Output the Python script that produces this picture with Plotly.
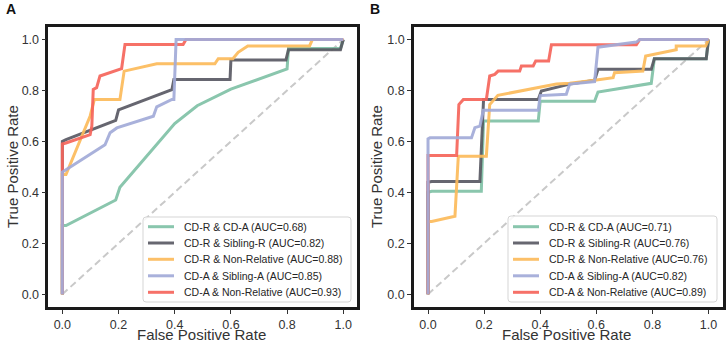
import plotly.graph_objects as go

W, H = 728, 342

# ---------------- data ----------------
series_names = ["CD-R & CD-A", "CD-R & Sibling-R", "CD-R & Non-Relative",
                "CD-A & Sibling-A", "CD-A & Non-Relative"]
auc_A = [0.68, 0.82, 0.88, 0.85, 0.93]
auc_B = [0.71, 0.76, 0.76, 0.82, 0.89]
tick_vals = [0.0, 0.2, 0.4, 0.6, 0.8, 1.0]

# Panel A
A_green_x = [0, 0, 0.013, 0.19, 0.205, 0.40, 0.48, 0.60, 0.80, 0.805, 0.99, 1.0]
A_green_y = [0, 0.27, 0.27, 0.37, 0.42, 0.67, 0.74, 0.805, 0.885, 0.965, 0.965, 1.0]
A_gray_x = [0, 0, 0.013, 0.19, 0.20, 0.39, 0.397, 0.597, 0.60, 0.796, 0.805, 0.99, 1.0]
A_gray_y = [0, 0.60, 0.607, 0.683, 0.724, 0.803, 0.843, 0.843, 0.92, 0.92, 0.96, 0.96, 1.0]
A_orange_x = [0, 0, 0.013, 0.099, 0.114, 0.205, 0.22, 0.336, 0.543, 0.555, 0.607, 0.626,
              0.66, 0.88, 0.89, 1.0]
A_orange_y = [0, 0.47, 0.47, 0.70, 0.765, 0.765, 0.876, 0.905, 0.905, 0.925, 0.925, 0.95,
              0.975, 0.975, 1.0, 1.0]
A_lav_x = [0, 0, 0.013, 0.152, 0.17, 0.194, 0.324, 0.336, 0.39, 0.397, 0.405, 1.0]
A_lav_y = [0, 0.48, 0.489, 0.587, 0.634, 0.653, 0.699, 0.736, 0.765, 0.765, 1.0, 1.0]
A_red_x = [0, 0, 0.013, 0.099, 0.105, 0.11, 0.122, 0.134, 0.211, 0.223, 0.43, 0.44, 1.0]
A_red_y = [0, 0.59, 0.594, 0.627, 0.66, 0.804, 0.811, 0.857, 0.886, 0.981, 0.981, 1.0, 1.0]

# Panel B
B_green_x = [0, 0, 0.013, 0.19, 0.198, 0.393, 0.40, 0.594, 0.606, 0.796, 0.807, 0.992, 1.0]
B_green_y = [0, 0.40, 0.404, 0.404, 0.68, 0.68, 0.758, 0.758, 0.794, 0.828, 0.925, 0.925, 1.0]
B_gray_x = [0, 0, 0.013, 0.185, 0.198, 0.393, 0.404, 0.505, 0.594, 0.606, 0.796, 0.807, 0.992, 1.0]
B_gray_y = [0, 0.44, 0.443, 0.443, 0.765, 0.765, 0.798, 0.825, 0.84, 0.883, 0.883, 0.925, 0.925, 1.0]
B_orange_x = [0, 0, 0.013, 0.096, 0.108, 0.208, 0.22, 0.249, 0.458, 0.505, 0.594, 0.66,
              0.665, 0.766, 0.776, 0.85, 0.885, 0.885, 0.99, 1.0]
B_orange_y = [0, 0.286, 0.286, 0.306, 0.542, 0.542, 0.745, 0.781, 0.825, 0.828, 0.84, 0.85,
              0.87, 0.876, 0.935, 0.95, 0.96, 0.975, 0.975, 1.0]
B_lav_x = [0, 0, 0.007, 0.155, 0.167, 0.185, 0.197, 0.393, 0.40, 0.493, 0.505, 0.594,
           0.606, 0.743, 0.755, 1.0]
B_lav_y = [0, 0.61, 0.614, 0.614, 0.654, 0.66, 0.722, 0.722, 0.78, 0.785, 0.825, 0.835,
           0.97, 0.99, 1.0, 1.0]
B_red_x = [0, 0, 0.013, 0.102, 0.11, 0.126, 0.208, 0.22, 0.238, 0.25, 0.327, 0.333, 0.375,
           0.384, 0.43, 0.44, 0.743, 0.755, 1.0]
B_red_y = [0, 0.545, 0.545, 0.545, 0.745, 0.765, 0.765, 0.857, 0.863, 0.876, 0.876, 0.896,
           0.896, 0.916, 0.916, 0.98, 0.98, 1.0, 1.0]

colors = ["#80c2a7", "#5b5b64", "#fcbb5d", "#a2abd8", "#f6655c"]

panels = [
    dict(xs=[A_green_x, A_gray_x, A_orange_x, A_lav_x, A_red_x],
         ys=[A_green_y, A_gray_y, A_orange_y, A_lav_y, A_red_y],
         auc=auc_A, letter="A", xa="x", ya="y"),
    dict(xs=[B_green_x, B_gray_x, B_orange_x, B_lav_x, B_red_x],
         ys=[B_green_y, B_gray_y, B_orange_y, B_lav_y, B_red_y],
         auc=auc_B, letter="B", xa="x2", ya="y2"),
]

# ---------------- layout geometry (pixels) ----------------
def pxx(x):
    return x / W

def pxy(y):
    return 1 - y / H

panel_left = [48.3, 414.0]
panel_right = [357.3, 722.5]
plot_top, plot_bottom = 26.8, 307.0

fig = go.Figure()

draw_order = [0, 1, 2, 4, 3]
for p in panels:
    fig.add_trace(go.Scatter(x=[0, 1], y=[0, 1], mode="lines",
                             line=dict(color="#c9c9c9", width=2, dash="7px,4px"),
                             xaxis=p["xa"], yaxis=p["ya"], showlegend=False,
                             hoverinfo="skip"))
    for i in draw_order:
        fig.add_trace(go.Scatter(
            x=p["xs"][i], y=p["ys"][i], mode="lines",
            line=dict(color=colors[i], width=3),
            opacity=0.92,
            name=f"{series_names[i]} (AUC={p['auc'][i]:.2f})",
            xaxis=p["xa"], yaxis=p["ya"], showlegend=False))

axis_common = dict(
    range=[-0.05, 1.05], tickvals=tick_vals, tickformat=".1f",
    showgrid=False, zeroline=False, showline=True, mirror=True,
    linecolor="#1a1a1a", linewidth=2.5,
    ticks="outside", ticklen=4, tickwidth=1, tickcolor="#333333",
    tickfont=dict(size=12.5, color="#333333"), automargin=False,
)

fig.update_layout(
    width=W, height=H,
    margin=dict(l=0, r=0, t=0, b=0),
    paper_bgcolor="white", plot_bgcolor="white",
    font=dict(family="Liberation Sans, Arial, sans-serif", color="#262626"),
    showlegend=False,
    xaxis=dict(domain=[pxx(panel_left[0]), pxx(panel_right[0])], anchor="y", **axis_common),
    yaxis=dict(domain=[pxy(plot_bottom), pxy(plot_top)], anchor="x", **axis_common),
    xaxis2=dict(domain=[pxx(panel_left[1]), pxx(panel_right[1])], anchor="y2", **axis_common),
    yaxis2=dict(domain=[pxy(plot_bottom), pxy(plot_top)], anchor="x2", **axis_common),
)

annotations = []
shapes = []
row_y = [226.7, 243.0, 259.3, 275.8, 292.3]
legend_box = [(143, 217, 351, 302), (508, 216, 717, 302)]
title_x_center = [201.0, 566.0]
ytitle_x = [12.0, 376.0]
letter_x = [11.0, 375.0]

for k, p in enumerate(panels):
    # panel letters
    annotations.append(dict(text=f"<b>{p['letter']}</b>", x=pxx(letter_x[k]), y=pxy(8.5),
                            xref="paper", yref="paper", showarrow=False,
                            xanchor="center", yanchor="middle",
                            font=dict(size=14, color="#111111")))
    # axis titles
    annotations.append(dict(text="False Positive Rate", x=pxx(title_x_center[k]), y=pxy(334),
                            xref="paper", yref="paper", showarrow=False,
                            xanchor="center", yanchor="middle", borderpad=0,
                            font=dict(size=15, color="#333333")))
    annotations.append(dict(text="True Positive Rate", x=pxx(ytitle_x[k]), y=pxy(167),
                            xref="paper", yref="paper", showarrow=False, textangle=-90,
                            xanchor="center", yanchor="middle", borderpad=0,
                            font=dict(size=15, color="#333333")))
    # legend box (rounded)
    x0, y0, x1, y1 = legend_box[k]
    r = 3
    path = (f"M {pxx(x0 + r)},{pxy(y0)} L {pxx(x1 - r)},{pxy(y0)} "
            f"Q {pxx(x1)},{pxy(y0)} {pxx(x1)},{pxy(y0 + r)} "
            f"L {pxx(x1)},{pxy(y1 - r)} Q {pxx(x1)},{pxy(y1)} {pxx(x1 - r)},{pxy(y1)} "
            f"L {pxx(x0 + r)},{pxy(y1)} Q {pxx(x0)},{pxy(y1)} {pxx(x0)},{pxy(y1 - r)} "
            f"L {pxx(x0)},{pxy(y0 + r)} Q {pxx(x0)},{pxy(y0)} {pxx(x0 + r)},{pxy(y0)} Z")
    shapes.append(dict(type="path", path=path, xref="paper", yref="paper",
                       fillcolor="rgba(255,255,255,0.85)",
                       line=dict(color="#d5d5d5", width=1), layer="above"))
    for i in range(5):
        yy = row_y[i]
        shapes.append(dict(type="line", xref="paper", yref="paper",
                           x0=pxx(x0 + 5), x1=pxx(x0 + 31), y0=pxy(yy), y1=pxy(yy),
                           line=dict(color=colors[i], width=3), opacity=0.92,
                           layer="above"))
        annotations.append(dict(text=f"{series_names[i]} (AUC={p['auc'][i]:.2f})",
                                x=pxx(x0 + 38.5), y=pxy(yy), xref="paper", yref="paper",
                                showarrow=False, xanchor="left", yanchor="middle",
                                font=dict(size=10.5, color="#262626")))

fig.update_layout(annotations=annotations, shapes=shapes)
fig.write_html("out.html", config={"displayModeBar": False},
               post_script="document.body.style.margin='0';document.body.style.overflow='hidden';")
